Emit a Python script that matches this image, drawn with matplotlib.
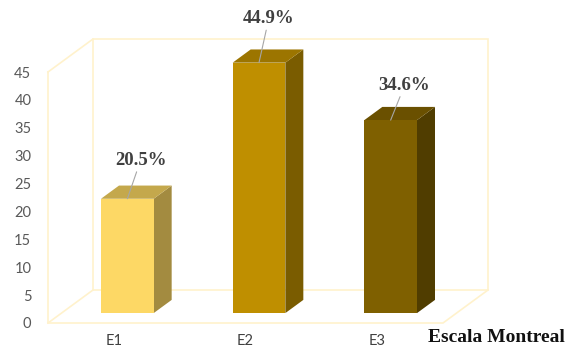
import matplotlib.pyplot as plt
from matplotlib.patches import Polygon

categories = ["E1", "E2", "E3"]
values = [20.5, 44.9, 34.6]
value_labels = ["20.5%", "44.9%", "34.6%"]
yticks = [0, 5, 10, 15, 20, 25, 30, 35, 40, 45]

front_colors = ["#FDD865", "#BF8F00", "#7F6000"]
side_colors = ["#A38B40", "#7A5C00", "#503D00"]
top_colors = ["#C4A84C", "#9C7500", "#6A5000"]
# label offsets (points) from the bar top, labels were moved by hand
label_offsets = [(9.5, 27.5), (7, 31.5), (10, 25)]

wall = "#FFF2CC"
W, H = 570, 351

fig = plt.figure(figsize=(5.7, 3.51), dpi=100)
ax = fig.add_axes([48 / W, 28 / H, 395 / W, 251 / H])
ax.set_xlim(-0.5, 2.5)
ax.set_ylim(0, 45)

# depth of the 3d box in data units
DX = 45 / (395 / 3)
DY = 33 / (251 / 45)


def proj(x, y, z):
    return (x + z * DX, y + z * DY)


def line(pts):
    xs = [p[0] for p in pts]
    ys = [p[1] for p in pts]
    ax.plot(xs, ys, color=wall, lw=1.2, clip_on=False, zorder=1,
            solid_joinstyle="miter")


# walls and floor
line([proj(-0.5, 45, 0), proj(-0.5, 0, 0), proj(2.5, 0, 0), proj(2.5, 0, 1)])
line([proj(-0.5, 45, 0), proj(-0.5, 45, 1), proj(2.5, 45, 1),
      proj(2.5, 0, 1), proj(-0.5, 0, 1), proj(-0.5, 0, 0)])
line([proj(-0.5, 45, 1), proj(-0.5, 0, 1)])

# bars
w = 0.40
z0, z1 = 0.30, 0.70
for i, v in enumerate(values):
    l, r = i - w / 2, i + w / 2
    front = [proj(l, 0, z0), proj(r, 0, z0), proj(r, v, z0), proj(l, v, z0)]
    side = [proj(r, 0, z0), proj(r, 0, z1), proj(r, v, z1), proj(r, v, z0)]
    top = [proj(l, v, z0), proj(r, v, z0), proj(r, v, z1), proj(l, v, z1)]
    ax.add_patch(Polygon(side, closed=True, fc=side_colors[i], ec="none",
                         clip_on=False, zorder=3))
    ax.add_patch(Polygon(top, closed=True, fc=top_colors[i], ec="none",
                         clip_on=False, zorder=3))
    ax.add_patch(Polygon(front, closed=True, fc=front_colors[i], ec="none",
                         clip_on=False, zorder=4))
    ax.annotate(value_labels[i], xy=proj(i, v, z0), xytext=label_offsets[i],
                textcoords="offset points", ha="center", va="center",
                fontsize=13.5, fontweight="bold", family="Liberation Serif",
                color="#404040", zorder=5, annotation_clip=False,
                arrowprops=dict(arrowstyle="-", color="#A6A6A6", lw=0.8,
                                shrinkA=0, shrinkB=0))

ax.set_yticks(yticks)
ax.set_yticklabels([str(t) for t in yticks], family="Lato")
ax.set_xticks(range(len(categories)))
ax.set_xticklabels(categories, family="Lato")
ax.tick_params(axis="y", length=0, pad=12, labelsize=10.5, labelcolor="#595959")
ax.tick_params(axis="x", length=0, pad=8, labelsize=10.5, labelcolor="#404040")
for s in ax.spines.values():
    s.set_visible(False)
ax.patch.set_alpha(0)

fig.text(565 / W, (H - 337) / H, "Escala Montreal", ha="right", va="center",
         fontsize=14, fontweight="bold", family="Liberation Serif", color="#111111")

fig.savefig("out.png", dpi=100)
